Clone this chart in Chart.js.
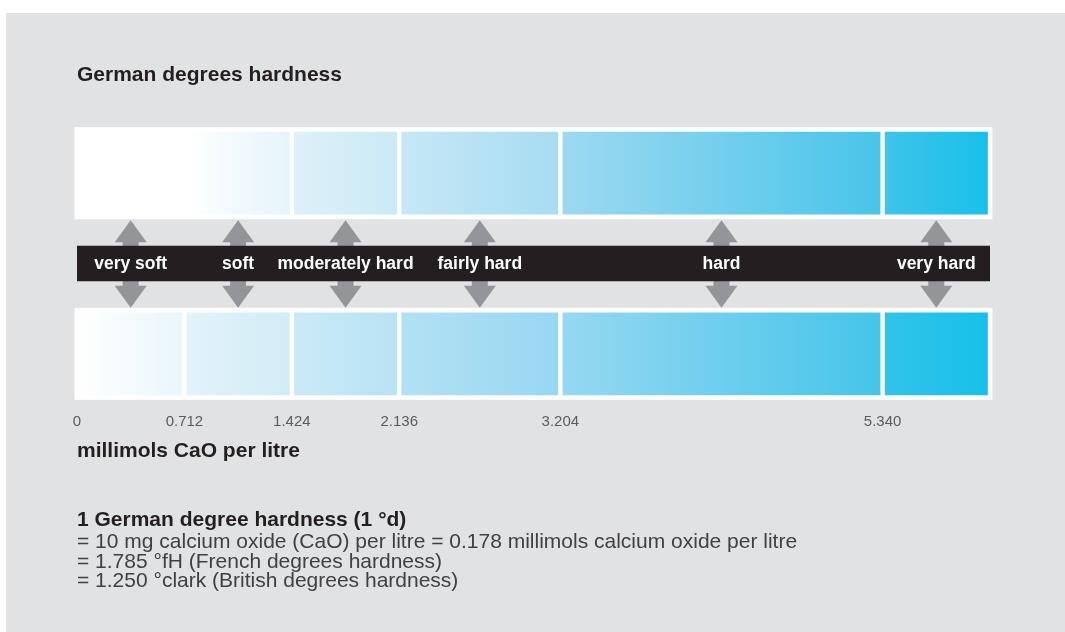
<!DOCTYPE html>
<html>
<head>
<meta charset="utf-8">
<script src="https://cdn.jsdelivr.net/npm/chart.js@4.4.1/dist/chart.umd.min.js"></script>
<style>
  html, body { margin: 0; padding: 0; background: #ffffff; }
  canvas { display: block; }
</style>
</head>
<body>
<canvas id="chart" width="1065" height="632"></canvas>
<script>
// ---------- data ----------
const boundaries = [0, 0.712, 1.424, 2.136, 3.204, 5.340, 6.052];   // millimols CaO per litre (0,4,8,12,18,30,34 °d)
const tickValues = [0, 0.712, 1.424, 2.136, 3.204, 5.340];
const hardnessLabels = ['very soft', 'soft', 'moderately hard', 'fairly hard', 'hard', 'very hard'];
const rowLabels = ['German degrees hardness', 'band', 'millimols CaO per litre'];
const noteTitle = '1 German degree hardness (1 °d)';
const noteLines = [
  '= 10 mg calcium oxide (CaO) per litre = 0.178 millimols calcium oxide per litre',
  '= 1.785 °fH (French degrees hardness)',
  '= 1.250 °clark (British degrees hardness)'
];

// ---------- styles ----------
const topColors = [
  ['#ffffff', '#ffffff'], ['#ffffff', '#e5f4fa'], ['#ddf1f9', '#caeaf6'],
  ['#c7e8f6', '#a6dcf2'], ['#9ed9f1', '#47c5ea'], ['#3fc4ea', '#17c0e9']
];
const bottomColors = [
  ['#ffffff', '#e9f6fb'], ['#e3f3fa', '#d1ecf6'], ['#cbeaf6', '#b7e3f4'],
  ['#b3e1f4', '#97d7f1'], ['#97d8f1', '#44c5ea'], ['#33c3ea', '#16c0e9']
];
const FONT = "'Liberation Sans', Arial, Helvetica, sans-serif";
const PANEL = '#e1e2e4';
const ARROW = '#939598';
const BAND = '#231f20';

const segCount = boundaries.length - 1;
const datasets = [];
for (let i = 0; i < segCount; i++) {
  const seg = [boundaries[i], boundaries[i + 1]];
  datasets.push({
    label: 'segment ' + i,
    data: [seg, null, seg],
    grouped: false,
    barThickness: 87,
    borderWidth: 2.5,
    borderColor: '#ffffff',
    borderSkipped: false,
    backgroundColor: (ctx) => {
      const chart = ctx.chart;
      const sx = chart.scales.x;
      const cols = (ctx.dataIndex === 0 ? topColors : bottomColors)[ctx.datasetIndex];
      if (!cols) return '#ffffff';
      if (!ctx.raw || !sx) return cols[1];
      const x0 = sx.getPixelForValue(ctx.raw[0]);
      const x1 = sx.getPixelForValue(ctx.raw[1]);
      if (!isFinite(x0) || !isFinite(x1)) return cols[1];
      const g = chart.ctx.createLinearGradient(x0, 0, x1, 0);
      g.addColorStop(0, cols[0]);
      g.addColorStop(1, cols[1]);
      return g;
    }
  });
}
const bandIndex = datasets.length;
datasets.push({
  label: 'band',
  data: [null, [boundaries[0], boundaries[boundaries.length - 1]], null],
  grouped: false,
  barThickness: 35,
  borderWidth: 0,
  backgroundColor: BAND
});

function rowRect(chart, row) {
  let l = Infinity, r = -Infinity, t = Infinity, b = -Infinity;
  for (let i = 0; i < segCount; i++) {
    const el = chart.getDatasetMeta(i).data[row];
    if (!el) continue;
    const p = el.getProps(['x', 'y', 'base', 'height'], true);
    if (!isFinite(p.x) || !isFinite(p.base)) continue;
    l = Math.min(l, p.x, p.base); r = Math.max(r, p.x, p.base);
    t = Math.min(t, p.y - p.height / 2); b = Math.max(b, p.y + p.height / 2);
  }
  return { l, r, t, b };
}

const decor = {
  id: 'decor',
  beforeDraw(chart) {
    const c = chart.ctx;
    c.save();
    c.fillStyle = '#ffffff';
    c.fillRect(0, 0, chart.width, chart.height);
    c.fillStyle = PANEL;
    c.fillRect(6, 13, chart.width - 6, chart.height - 13);
    c.restore();
  },
  beforeDatasetsDraw(chart) {
    const c = chart.ctx;
    const sx = chart.scales.x;
    const top = rowRect(chart, 0);
    const bot = rowRect(chart, 2);
    if (!isFinite(top.l) || !isFinite(bot.l)) return;
    c.save();
    // white frames
    c.fillStyle = '#ffffff';
    [top, bot].forEach(f => c.fillRect(f.l - 2.5, f.t - 2.5, f.r - f.l + 5, f.b - f.t + 5));
    // double arrows
    const y1 = top.b + 3.5, y2 = bot.t - 2.5;
    const hw = 16, sw = 8, hl = 22;
    c.fillStyle = ARROW;
    for (let i = 0; i < segCount; i++) {
      const x = sx.getPixelForValue((boundaries[i] + boundaries[i + 1]) / 2);
      c.beginPath();
      c.moveTo(x, y1);
      c.lineTo(x + hw, y1 + hl);
      c.lineTo(x + sw, y1 + hl);
      c.lineTo(x + sw, y2 - hl);
      c.lineTo(x + hw, y2 - hl);
      c.lineTo(x, y2);
      c.lineTo(x - hw, y2 - hl);
      c.lineTo(x - sw, y2 - hl);
      c.lineTo(x - sw, y1 + hl);
      c.lineTo(x - hw, y1 + hl);
      c.closePath();
      c.fill();
    }
    c.restore();
  },
  afterDatasetsDraw(chart) {
    const c = chart.ctx;
    const sx = chart.scales.x;
    const band = chart.getDatasetMeta(bandIndex).data[1];
    const by = band ? band.getProps(['y'], true).y : 263;
    c.save();
    // band labels
    c.fillStyle = '#ffffff';
    c.font = 'bold 17.5px ' + FONT;
    c.textAlign = 'center';
    c.textBaseline = 'middle';
    hardnessLabels.forEach((lab, i) => {
      const x = sx.getPixelForValue((boundaries[i] + boundaries[i + 1]) / 2);
      c.fillText(lab, x, by + 1);
    });
    // row titles & notes
    const left = chart.chartArea.left;
    c.textAlign = 'left';
    c.textBaseline = 'alphabetic';
    c.fillStyle = '#231f20';
    c.font = 'bold 21px ' + FONT;
    c.fillText(rowLabels[0], left, 81);
    c.fillText(rowLabels[2], left, 457);
    c.fillText(noteTitle, left, 526);
    c.fillStyle = '#414042';
    c.font = '21px ' + FONT;
    noteLines.forEach((t, i) => c.fillText(t, left, 548 + i * 19.5));
    c.restore();
  }
};

new Chart(document.getElementById('chart'), {
  type: 'bar',
  data: { labels: rowLabels, datasets },
  options: {
    indexAxis: 'y',
    responsive: false,
    animation: false,
    layout: { padding: { left: 77, right: 75, top: 128, bottom: 187 } },
    plugins: { legend: { display: false }, tooltip: { enabled: false }, title: { display: false } },
    scales: {
      x: {
        type: 'linear',
        min: boundaries[0],
        max: boundaries[boundaries.length - 1],
        position: 'bottom',
        grid: { display: false, drawTicks: false },
        border: { display: false },
        afterBuildTicks: (s) => { s.ticks = tickValues.map(v => ({ value: v })); },
        ticks: {
          autoSkip: false,
          maxRotation: 0,
          padding: 14,
          color: '#5b5c5e',
          font: { family: FONT, size: 15 },
          callback: (v) => (v === 0 ? '0' : Number(v).toFixed(3))
        }
      },
      y: {
        type: 'category',
        display: false,
        grid: { display: false }
      }
    }
  },
  plugins: [decor]
});
</script>
</body>
</html>
